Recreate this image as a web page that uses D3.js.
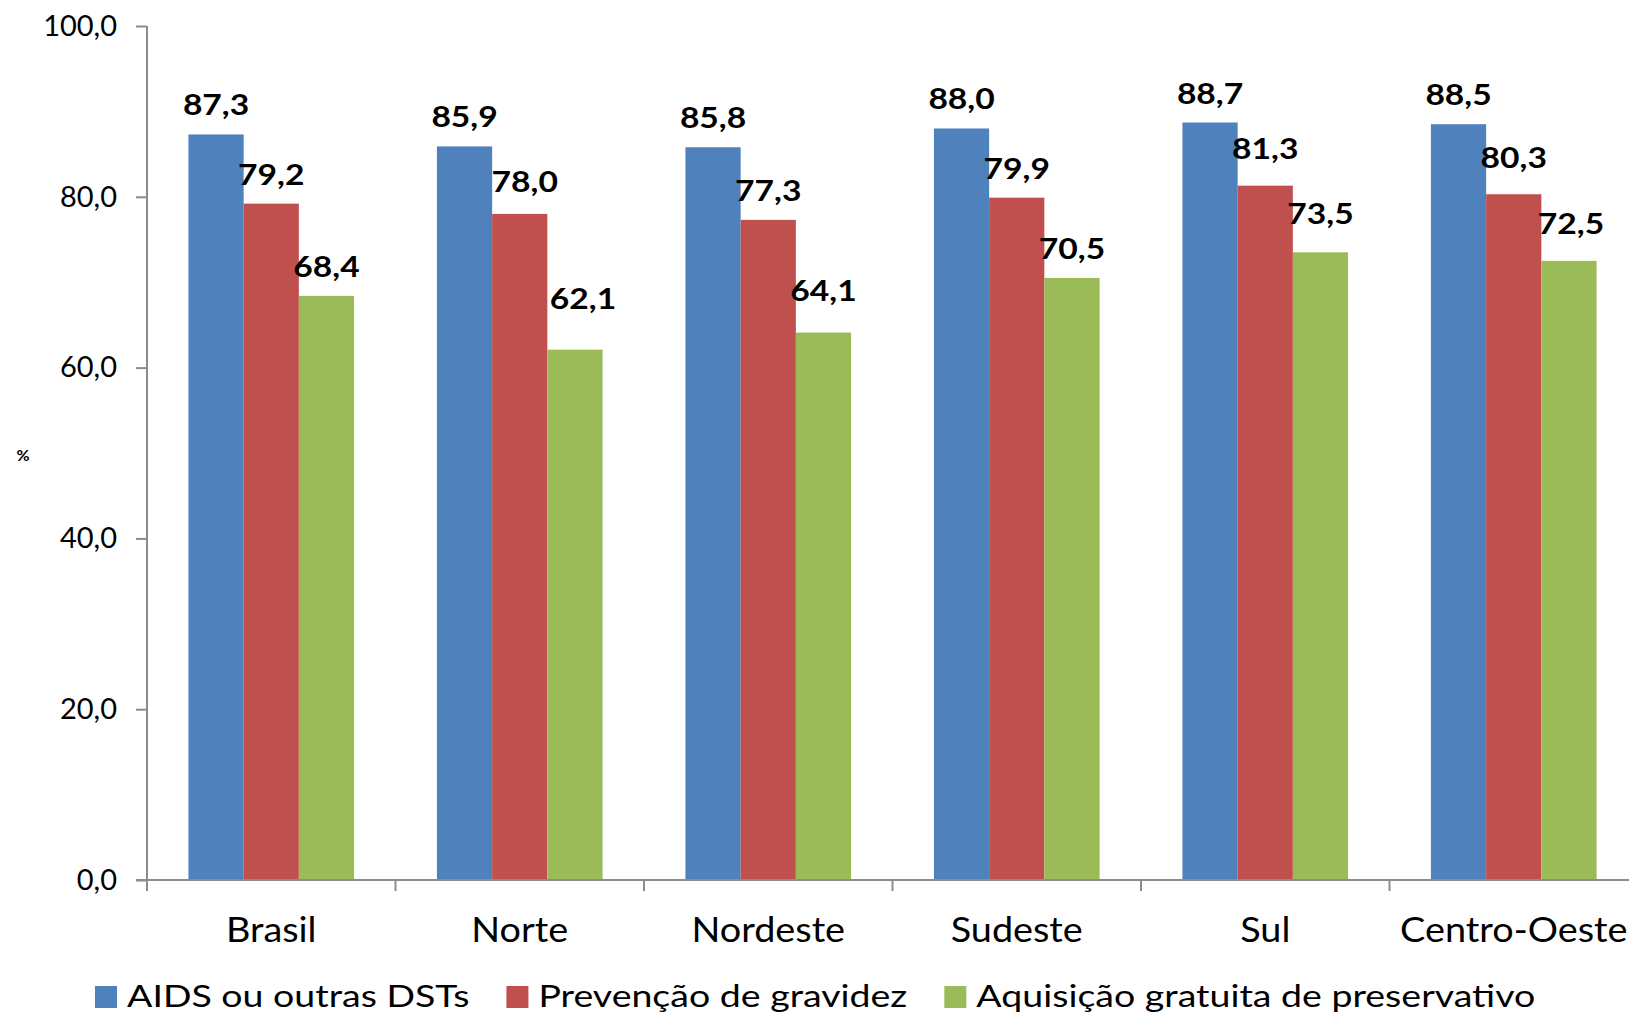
<!DOCTYPE html>
<meta charset="utf-8">
<style>
body { margin: 0; background: #fff; }
svg { display: block; font-family: Lato, "Open Sans", sans-serif; }
.axis path, .axis line { stroke: #8c8c8c; stroke-width: 2px; }
.val { font-weight: bold; font-size: 28px; fill: #000; }
</style>
<svg width="1629" height="1014"></svg>
<script src="https://cdn.jsdelivr.net/npm/d3@7"></script>
<script>

var regions = ["Brasil", "Norte", "Nordeste", "Sudeste", "Sul", "Centro-Oeste"];
var seriesNames = ["AIDS ou outras DSTs", "Prevenção de gravidez", "Aquisição gratuita de preservativo"];
var aids = [87.3, 85.9, 85.8, 88.0, 88.7, 88.5];
var gravidez = [79.2, 78.0, 77.3, 79.9, 81.3, 80.3];
var preservativo = [68.4, 62.1, 64.1, 70.5, 73.5, 72.5];
var yTicks = [0, 20, 40, 60, 80, 100];
var colors = ["#4f81bd", "#c0504d", "#9bbb59"];

// hand-moved data labels in the source (dx, dy in px), per series then region
var labelNudge = [
  [[0, 0], [0, 0], [0, 0], [0, 0], [0, 0], [0, 0]],
  [[0, 0], [5, -3], [0, 0], [0, 0], [0, -8], [0, -7]],
  [[0, 0], [8, -22], [0, -13], [0, 0], [0, -9], [2, -8]]
];

var series = [aids, gravidez, preservativo];
var fmt = function(v) { return v.toFixed(1).replace(".", ","); };

var svg = d3.select("svg"),
    plotLeft = 147, plotTop = 26, plotBottom = 880,
    step = 248.5;

// the source picture is stretched sideways, so the text is too
function stretch(sel, sx, px, py) {
  sel.attr("transform", function(d, i) {
    return "translate(" + px(d, i) + "," + py(d, i) + ") scale(" + sx + ",1)";
  });
}

var x = d3.scaleBand()
    .domain(regions)
    .range([plotLeft, plotLeft + step * regions.length])
    .paddingInner(1 / 3)
    .paddingOuter(1 / 6);

var xs = d3.scaleBand()
    .domain(d3.range(series.length))
    .range([0, x.bandwidth()]);

var y = d3.scaleLinear()
    .domain([0, 100])
    .range([plotBottom, plotTop]);

// bars
var groups = svg.append("g").selectAll("g")
    .data(series)
  .enter().append("g")
    .attr("fill", function(d, i) { return colors[i]; });

function rows(d, i) { return d.map(function(v, j) { return {s: i, j: j, r: regions[j], v: v}; }); }

groups.selectAll("rect")
    .data(rows)
  .enter().append("rect")
    .attr("x", function(d) { return x(d.r) + xs(d.s); })
    .attr("y", function(d) { return y(d.v); })
    .attr("width", xs.bandwidth())
    .attr("height", function(d) { return plotBottom - y(d.v); });

groups.selectAll("text")
    .data(rows)
  .enter().append("text")
    .attr("class", "val")
    .attr("text-anchor", "middle")
    .attr("fill", "#000")
    .text(function(d) { return fmt(d.v); })
    .call(stretch, 1.2,
      function(d) { return x(d.r) + xs(d.s) + xs.bandwidth() / 2 + labelNudge[d.s][d.j][0]; },
      function(d) { return y(d.v) - 19 + labelNudge[d.s][d.j][1]; });

// y axis
var yAxis = svg.append("g")
    .attr("class", "axis")
    .attr("transform", "translate(" + plotLeft + ",0)")
    .call(d3.axisLeft(y).tickValues(yTicks).tickSize(11).tickSizeOuter(0).tickPadding(19).tickFormat(fmt));

yAxis.select(".domain").attr("d", "M0," + plotTop + "V" + plotBottom);

yAxis.selectAll("text")
    .attr("font-size", 29)
    .attr("font-family", "Lato")
    .attr("fill", "#000");

// x axis with ticks on the category boundaries
var bounds = regions.map(function(r) { return x(r) - x.step() * x.paddingInner() / 2; });

svg.append("line")
    .attr("x1", plotLeft - 11).attr("x2", 1629)
    .attr("y1", plotBottom).attr("y2", plotBottom)
    .attr("stroke", "#8c8c8c").attr("stroke-width", 2);

svg.append("g").selectAll("line")
    .data(bounds)
  .enter().append("line")
    .attr("x1", function(d) { return d; }).attr("x2", function(d) { return d; })
    .attr("y1", plotBottom).attr("y2", plotBottom + 11)
    .attr("stroke", "#8c8c8c").attr("stroke-width", 2);

svg.append("g").selectAll("text")
    .data(regions)
  .enter().append("text")
    .attr("text-anchor", "middle")
    .attr("font-size", 35)
    .text(function(d) { return d; })
    .call(stretch, 1.08,
      function(d) { return x(d) + x.bandwidth() / 2; },
      function() { return 942; });

// y label
svg.append("text")
    .attr("x", 23).attr("y", 461)
    .attr("text-anchor", "middle")
    .attr("font-size", 16)
    .attr("font-weight", "bold")
    .text("%");

// legend
var lx = 95;
seriesNames.forEach(function(name, i) {
  svg.append("rect")
      .attr("x", lx).attr("y", 986)
      .attr("width", 22).attr("height", 22)
      .attr("fill", colors[i]);
  var t = svg.append("text")
      .datum(name)
      .attr("font-size", 31)
      .text(name)
      .call(stretch, 1.21, function() { return lx + 32; }, function() { return 1007; });
  lx += 32 + t.node().getComputedTextLength() * 1.21 + 37;
});

</script>
